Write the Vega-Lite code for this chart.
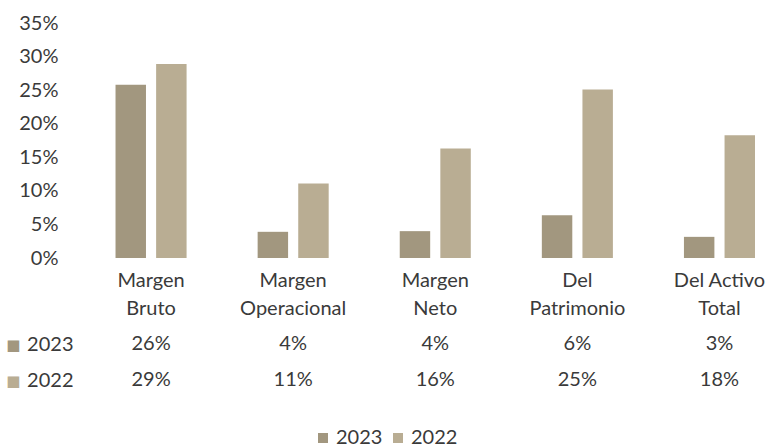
{
  "$schema": "https://vega.github.io/schema/vega-lite/v6.json",
  "background": "white",
  "padding": {"left": 5, "top": 13, "right": 0, "bottom": 0},
  "spacing": 8,
  "config": {
    "view": {"stroke": null},
    "font": "Lato",
    "axis": {"labelFont": "Lato", "labelColor": "#3a3a3a", "labelFontSize": 20, "domain": false, "ticks": false, "grid": false, "title": null},
    "text": {"font": "Lato"}
  },
  "datasets": {
    "ratios": [
      {"categoria": "Margen Bruto", "serie": "2023", "valor": 0.258},
      {"categoria": "Margen Bruto", "serie": "2022", "valor": 0.289},
      {"categoria": "Margen Operacional", "serie": "2023", "valor": 0.039},
      {"categoria": "Margen Operacional", "serie": "2022", "valor": 0.111},
      {"categoria": "Margen Neto", "serie": "2023", "valor": 0.040},
      {"categoria": "Margen Neto", "serie": "2022", "valor": 0.163},
      {"categoria": "Del Patrimonio", "serie": "2023", "valor": 0.0635},
      {"categoria": "Del Patrimonio", "serie": "2022", "valor": 0.251},
      {"categoria": "Del Activo Total", "serie": "2023", "valor": 0.0315},
      {"categoria": "Del Activo Total", "serie": "2022", "valor": 0.183}
    ]
  },
  "vconcat": [
    {
      "width": 675,
      "height": 235,
      "data": {"name": "ratios"},
      "mark": {"type": "bar"},
      "encoding": {
        "x": {
          "field": "categoria", "type": "nominal",
          "sort": ["Margen Bruto", "Margen Operacional", "Margen Neto", "Del Patrimonio", "Del Activo Total"],
          "scale": {"type": "band", "paddingInner": 0.5, "paddingOuter": 0.125, "align": 1},
          "axis": {"labelAngle": 0, "labelPadding": 12, "labelLineHeight": 28, "labelBaseline": "top",
            "labelExpr": "datum.label == 'Del Activo Total' ? ['Del Activo', 'Total'] : split(datum.label, ' ')"}
        },
        "xOffset": {"field": "serie", "type": "nominal", "sort": ["2023", "2022"], "scale": {"paddingInner": 0.25, "paddingOuter": 0}},
        "y": {
          "field": "valor", "type": "quantitative",
          "scale": {"domain": [0, 0.35], "nice": false},
          "axis": {"format": ".0%", "values": [0, 0.05, 0.1, 0.15, 0.2, 0.25, 0.3, 0.35], "labelPadding": 22}
        },
        "color": {
          "field": "serie", "type": "nominal", "sort": ["2023", "2022"],
          "scale": {"domain": ["2023", "2022"], "range": ["#a2977f", "#b9ad93"]},
          "legend": {"orient": "none", "legendX": 233, "legendY": 405, "direction": "horizontal", "title": null, "symbolType": "square", "symbolSize": 100, "symbolStrokeWidth": 0, "labelFontSize": 20, "labelFont": "Lato", "labelColor": "#3a3a3a", "columnPadding": 5, "labelOffset": 3}
        }
      }
    },
    {
      "width": 675,
      "height": 72,
      "data": {"name": "ratios"},
      "layer": [
        {
          "mark": {"type": "text", "fontSize": 20, "color": "#3a3a3a"},
          "encoding": {
            "x": {
              "field": "categoria", "type": "nominal",
              "sort": ["Margen Bruto", "Margen Operacional", "Margen Neto", "Del Patrimonio", "Del Activo Total"],
              "scale": {"type": "band", "paddingInner": 0.5, "paddingOuter": 0.125, "align": 1},
              "axis": null
            },
            "y": {"field": "serie", "type": "nominal", "sort": ["2023", "2022"], "scale": {"paddingInner": 0, "paddingOuter": 0},
              "axis": {"labelPadding": 7}},
            "text": {"field": "valor", "type": "quantitative", "format": ".0%"}
          }
        },
        {
          "mark": {"type": "text", "opacity": 0},
          "encoding": {
            "y": {"field": "serie", "type": "nominal", "sort": ["2023", "2022"], "scale": {"paddingInner": 0, "paddingOuter": 0},
              "axis": {"orient": "left", "offset": 56, "labelExpr": "'■'", "labelFont": "DejaVu Sans", "labelFontSize": 15, "labelPadding": 4,
                "labelColor": {"condition": {"test": "datum.value == '2023'", "value": "#a2977f"}, "value": "#b9ad93"}}},
            "text": {"value": ""}
          }
        }
      ],
      "resolve": {"scale": {"y": "independent"}, "axis": {"y": "independent"}}
    }
  ]
}
